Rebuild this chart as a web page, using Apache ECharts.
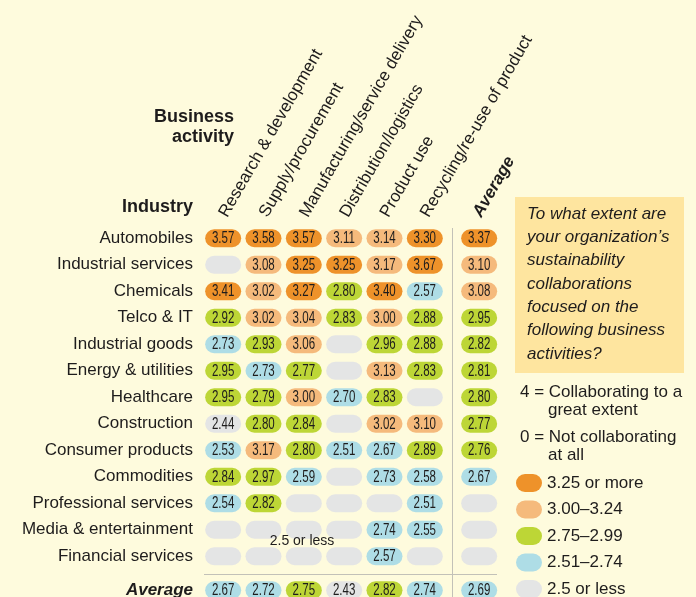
<!DOCTYPE html>
<html>
<head>
<meta charset="utf-8">
<script src="https://cdn.jsdelivr.net/npm/echarts@6/dist/echarts.min.js"></script>
<style>
  html, body { margin: 0; padding: 0; background: #fefbdd; }
  #chart { width: 696px; height: 597px; }
</style>
</head>
<body>
<div id="chart"></div>
<script>
const industries = ['Automobiles', 'Industrial services', 'Chemicals', 'Telco & IT', 'Industrial goods',
  'Energy & utilities', 'Healthcare', 'Construction', 'Consumer products', 'Commodities',
  'Professional services', 'Media & entertainment', 'Financial services'];
const activities = ['Research & development', 'Supply/procurement', 'Manufacturing/service delivery',
  'Distribution/logistics', 'Product use', 'Recycling/re-use of product'];

// one row per industry, one value per activity (null = blank grey pill)
const scores = [
  [3.57, 3.58, 3.57, 3.11, 3.14, 3.30],
  [null, 3.08, 3.25, 3.25, 3.17, 3.67],
  [3.41, 3.02, 3.27, 2.80, 3.40, 2.57],
  [2.92, 3.02, 3.04, 2.83, 3.00, 2.88],
  [2.73, 2.93, 3.06, null, 2.96, 2.88],
  [2.95, 2.73, 2.77, null, 3.13, 2.83],
  [2.95, 2.79, 3.00, 2.70, 2.83, null],
  [2.44, 2.80, 2.84, null, 3.02, 3.10],
  [2.53, 3.17, 2.80, 2.51, 2.67, 2.89],
  [2.84, 2.97, 2.59, null, 2.73, 2.58],
  [2.54, 2.82, null, null, null, 2.51],
  [null, null, null, null, 2.74, 2.55],
  [null, null, null, null, 2.57, null]
];
const industryAverages = [3.37, 3.10, 3.08, 2.95, 2.82, 2.81, 2.80, 2.77, 2.76, 2.67, null, null, null];
const activityAverages = [2.67, 2.72, 2.75, 2.43, 2.82, 2.74];
const overallAverage = 2.69;
const bandLabels = ['3.25 or more', '3.00\u20133.24', '2.75\u20132.99', '2.51\u20132.74', '2.5 or less'];
const bandColors = ['#ee922a', '#f5ba7c', '#bdd636', '#aedde6', '#e4e5e5'];

const FONT = '"Liberation Sans", Arial, sans-serif';
const INK = '#1e1c1c';
const GREY = '#e4e5e5';

// column width 40.33, row height 26.5
const COLW = 40.33, ROWH = 26.5;
const mainLeft = 203, mainTop = 225, avgLeft = 459, avgTop = 577;

let mainData = [], avgColData = [], avgRowData = [];
scores.forEach((row, r) => row.forEach((v, c) => mainData.push([c, r, v])));
industryAverages.forEach((v, r) => avgColData.push([0, r, v]));
activityAverages.forEach((v, c) => avgRowData.push([c, 0, v]));

const renderPill = (params, api) => {
  const v = api.value(2);
  const p = api.coord([api.value(0), api.value(1)]);
  const empty = isNaN(v) || v === null;
  const kids = [{
    type: 'rect',
    shape: { x: p[0] - 18, y: p[1] - 9, width: 36, height: 18, r: 9 },
    style: { fill: empty ? GREY : api.visual('color') }
  }];
  if (!empty) {
    kids.push({
      type: 'text', x: p[0], y: p[1] + 0.5, scaleX: 0.72,
      style: { text: v.toFixed(2), x: 0, y: 0, align: 'center', verticalAlign: 'middle',
        font: '16px ' + FONT, fill: INK }
    });
  }
  return { type: 'group', children: kids };
};

const grid = (left, top, width, height) => ({ left, top, width, height, outerBoundsMode: 'none' });
const hiddenAxis = (gridIndex, data) => ({ gridIndex, type: 'category', data, show: false });

var myChart = echarts.init(document.getElementById('chart'));
myChart.setOption({
  backgroundColor: '#fefbdd',
  animation: false,
  grid: [
    grid(mainLeft, mainTop, COLW * 6, ROWH * 13),
    grid(avgLeft, mainTop, COLW, ROWH * 13),
    grid(mainLeft, avgTop, COLW * 6, ROWH),
    grid(avgLeft, avgTop, COLW, ROWH),
    grid(mainLeft, 224, COLW * 6, 1),
    grid(avgLeft - 2, 224, COLW, 1)
  ],
  xAxis: [
    hiddenAxis(0, activities),
    hiddenAxis(1, ['Average']),
    hiddenAxis(2, activities),
    hiddenAxis(3, ['Average']),
    {
      gridIndex: 4, type: 'category', data: activities, position: 'top',
      axisLine: { show: false }, axisTick: { show: false },
      axisLabel: { rotate: 60, margin: 8, interval: 0, fontSize: 17, fontFamily: FONT, color: INK }
    },
    {
      gridIndex: 5, type: 'category', data: ['Average'], position: 'top',
      axisLine: { show: false }, axisTick: { show: false },
      axisLabel: { rotate: 60, margin: 8, interval: 0, fontSize: 17, fontFamily: FONT, color: INK,
        fontWeight: 'bold', fontStyle: 'italic' }
    }
  ],
  yAxis: [
    {
      gridIndex: 0, type: 'category', data: industries, inverse: true,
      axisLine: { show: false }, axisTick: { show: false }, splitLine: { show: false },
      axisLabel: { margin: 10, fontSize: 17, fontFamily: FONT, color: INK }
    },
    { gridIndex: 1, type: 'category', data: industries, inverse: true, show: false },
    {
      gridIndex: 2, type: 'category', data: ['Average'],
      axisLine: { show: false }, axisTick: { show: false }, splitLine: { show: false },
      axisLabel: { margin: 10, fontSize: 17, fontFamily: FONT, color: INK,
        fontWeight: 'bold', fontStyle: 'italic' }
    },
    { gridIndex: 3, type: 'category', data: ['Average'], show: false },
    { gridIndex: 4, type: 'value', show: false },
    { gridIndex: 5, type: 'value', show: false }
  ],
  visualMap: {
    type: 'piecewise',
    seriesIndex: [0, 1, 2, 3],
    dimension: 2,
    orient: 'vertical',
    align: 'left',
    left: 516, top: 474,
    padding: 0,
    itemWidth: 26, itemHeight: 18, itemGap: 8.5, textGap: 5,
    itemSymbol: 'path://M9,0 L17,0 A9,9 0 0 1 17,18 L9,18 A9,9 0 0 1 9,0 Z',
    hoverLink: false, selectedMode: false,
    textStyle: { fontSize: 17, fontFamily: FONT, color: INK },
    pieces: [
      { gte: 3.25, label: bandLabels[0], color: bandColors[0] },
      { gte: 3.0, lt: 3.25, label: bandLabels[1], color: bandColors[1] },
      { gte: 2.75, lt: 3.0, label: bandLabels[2], color: bandColors[2] },
      { gt: 2.5, lt: 2.75, label: bandLabels[3], color: bandColors[3] },
      { lte: 2.5, label: bandLabels[4], color: bandColors[4] }
    ]
  },
  series: [
    { type: 'custom', xAxisIndex: 0, yAxisIndex: 0, data: mainData, renderItem: renderPill },
    { type: 'custom', xAxisIndex: 1, yAxisIndex: 1, data: avgColData, renderItem: renderPill },
    { type: 'custom', xAxisIndex: 2, yAxisIndex: 2, data: avgRowData, renderItem: renderPill },
    { type: 'custom', xAxisIndex: 3, yAxisIndex: 3, data: [[0, 0, overallAverage]], renderItem: renderPill }
  ],
  graphic: [
    { type: 'line', shape: { x1: 452.5, y1: 228, x2: 452.5, y2: 597 }, style: { stroke: '#c2c1b8', lineWidth: 1 } },
    { type: 'line', shape: { x1: 204, y1: 574.5, x2: 497, y2: 574.5 }, style: { stroke: '#c2c1b8', lineWidth: 1 } },
    { type: 'text', x: 234, y: 117, style: { text: 'Business', align: 'right', verticalAlign: 'middle',
      font: 'bold 18px ' + FONT, fill: INK } },
    { type: 'text', x: 234, y: 137, style: { text: 'activity', align: 'right', verticalAlign: 'middle',
      font: 'bold 18px ' + FONT, fill: INK } },
    { type: 'text', x: 193, y: 207, style: { text: 'Industry', align: 'right', verticalAlign: 'middle',
      font: 'bold 18px ' + FONT, fill: INK } },
    { type: 'text', x: 302, y: 541, z: 100, style: { text: '2.5 or less', align: 'center', verticalAlign: 'middle',
      font: '14px ' + FONT, fill: INK } },
    { type: 'rect', shape: { x: 515, y: 197, width: 169, height: 176 }, style: { fill: '#fee59f' } },
    { type: 'text', x: 527, y: 202.5, style: {
      text: 'To what extent are\nyour organization\u2019s\nsustainability\ncollaborations\nfocused on the\nfollowing business\nactivities?',
      lineHeight: 23.3, font: 'italic 17px ' + FONT, fill: INK } },
    { type: 'text', x: 520, y: 392, style: { text: '4 = Collaborating to a', verticalAlign: 'middle',
      font: '17px ' + FONT, fill: INK } },
    { type: 'text', x: 548, y: 410, style: { text: 'great extent', verticalAlign: 'middle',
      font: '17px ' + FONT, fill: INK } },
    { type: 'text', x: 520, y: 437, style: { text: '0 = Not collaborating', verticalAlign: 'middle',
      font: '17px ' + FONT, fill: INK } },
    { type: 'text', x: 548, y: 455, style: { text: 'at all', verticalAlign: 'middle',
      font: '17px ' + FONT, fill: INK } }
  ]
});
</script>
</body>
</html>
